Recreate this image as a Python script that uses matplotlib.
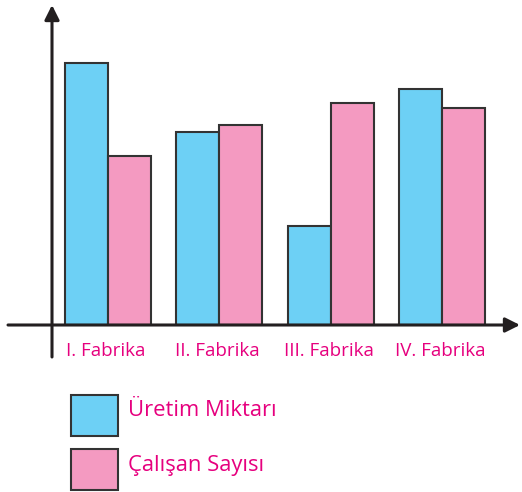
import matplotlib.pyplot as plt
from matplotlib.patches import Rectangle
import numpy as np

plt.rcParams['font.family'] = ['Open Sans', 'DejaVu Sans']

factories = ['I. Fabrika', 'II. Fabrika', 'III. Fabrika', 'IV. Fabrika']
uretim = [262, 193, 99, 236]
calisan = [169, 200, 222, 217]
legend_labels = ['Üretim Miktarı', 'Çalışan Sayısı']

blue = '#6dd0f5'
pink = '#f49ac1'
magenta = '#e6007e'
edge = '#333333'

W, H = 522, 492
fig = plt.figure(figsize=(W / 100, H / 100), dpi=100)
# axes box: x 52..520 px, y 5..325 px (from top)
ax = fig.add_axes([52 / W, 1 - 325 / H, (520 - 52) / W, (325 - 5) / H])

x = np.arange(len(factories))
bw = 0.386
ax.bar(x - bw / 2, uretim, bw, color=blue, edgecolor=edge, linewidth=1.5, zorder=2)
ax.bar(x + bw / 2, calisan, bw, color=pink, edgecolor=edge, linewidth=1.5, zorder=2)

ax.set_xlim(-0.503, 3.70)
ax.set_ylim(0, 320)
for s in ax.spines.values():
    s.set_visible(False)
ax.set_yticks([])
ax.set_xticks(x - 0.02)
ax.set_xticklabels(factories, color=magenta, fontsize=13.5)
ax.tick_params(axis='x', length=0, pad=12)

# axes with arrows
arrow = dict(arrowstyle='-|>', color='#231f20', lw=2.2, mutation_scale=22,
             shrinkA=0, shrinkB=0)
ax.annotate('', xy=(0, 1.0), xytext=(0, -0.1), xycoords='axes fraction',
            arrowprops=arrow, annotation_clip=False, zorder=3)
ax.annotate('', xy=(1.0, 0), xytext=(-0.094, 0), xycoords='axes fraction',
            arrowprops=arrow, annotation_clip=False, zorder=3)

# legend
for i, (lab, col) in enumerate(zip(legend_labels, [blue, pink])):
    top = 395 + i * 54
    fig.add_artist(Rectangle((71 / W, 1 - (top + 41) / H), 47 / W, 41 / H,
                             transform=fig.transFigure, facecolor=col,
                             edgecolor=edge, linewidth=1.5))
    fig.text(128 / W, 1 - (top + 16) / H, lab, color=magenta, fontsize=15.8,
             va='center', ha='left')

fig.savefig('out.png', dpi=100)
